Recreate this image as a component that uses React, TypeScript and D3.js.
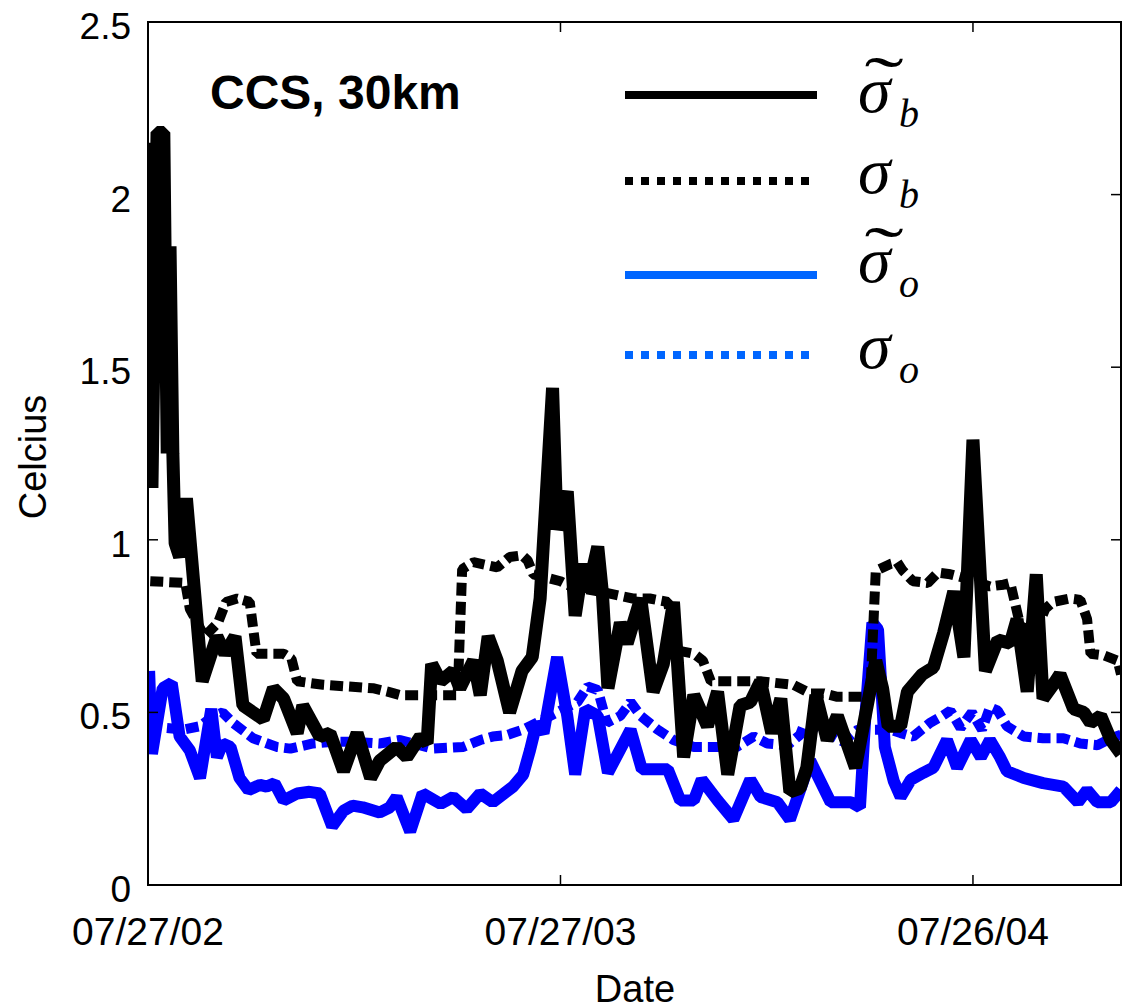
import React from "react";
import * as d3 from "d3";

// Days since 07/27/2002 paired with values in degrees Celsius
const sigmaBTilde: [number, number][] = [
  [0, 2.15], [3.5, 1.15], [8, 2.18], [14, 2.18], [17, 1.25], [19.5, 1.85], [22, 1.25], [24, 0.99],
  [28, 0.95], [34, 1.12], [48, 0.59], [61, 0.72], [68, 0.67], [77, 0.72], [84, 0.52], [102, 0.48],
  [111, 0.57], [120, 0.54], [132, 0.44], [137, 0.52], [152, 0.43], [161, 0.44], [173, 0.33],
  [185, 0.44], [197, 0.31], [205, 0.36], [220, 0.4], [229, 0.37], [241, 0.43], [247, 0.41],
  [251, 0.64], [259, 0.59], [270, 0.62], [276, 0.57], [288, 0.65], [294, 0.55], [301, 0.72],
  [309, 0.65], [320, 0.5], [331, 0.62], [340, 0.66], [347, 0.83], [358, 1.44], [362, 1.03],
  [371, 1.14], [378, 0.78], [385, 0.93], [389, 0.85], [398, 0.98], [402, 0.85], [407, 0.57],
  [418, 0.76], [424, 0.7], [436, 0.83], [447, 0.56], [456, 0.64], [465, 0.82], [474, 0.37],
  [483, 0.55], [495, 0.46], [504, 0.56], [513, 0.32], [524, 0.52], [533, 0.53], [542, 0.59],
  [552, 0.44], [560, 0.54], [568, 0.27], [577, 0.28], [583, 0.34], [591, 0.55], [601, 0.42],
  [610, 0.49], [626, 0.34], [644, 0.65], [650, 0.57], [655, 0.46], [666, 0.46], [672, 0.56],
  [685, 0.61], [695, 0.63], [704, 0.73], [713, 0.85], [722, 0.66], [730, 1.29], [741, 0.62],
  [752, 0.71], [763, 0.7], [769, 0.77], [778, 0.56], [786, 0.9], [792, 0.54], [803, 0.59],
  [807, 0.61], [819, 0.51], [828, 0.5], [834, 0.47], [843, 0.49], [852, 0.42], [861, 0.38],
];

const sigmaB: [number, number][] = [
  [2, 0.88], [33, 0.875], [37, 0.8], [50, 0.72], [62, 0.76], [69, 0.82], [79, 0.83], [90, 0.82],
  [96, 0.67], [120, 0.67], [127, 0.655], [132, 0.59], [155, 0.58], [199, 0.57], [212, 0.56],
  [223, 0.55], [274, 0.55], [278, 0.915], [288, 0.935], [309, 0.92], [320, 0.95], [331, 0.955],
  [336, 0.94], [341, 0.9], [353, 0.89], [365, 0.88], [374, 0.865], [400, 0.85], [429, 0.83],
  [444, 0.83], [460, 0.82], [468, 0.68], [483, 0.67], [491, 0.65], [498, 0.59], [513, 0.59],
  [542, 0.59], [571, 0.58], [586, 0.555], [598, 0.555], [610, 0.545], [628, 0.545], [639, 0.545],
  [644, 0.91], [657, 0.93], [663, 0.935], [668, 0.91], [677, 0.88], [690, 0.875], [699, 0.905],
  [710, 0.9], [722, 0.89], [745, 0.865], [757, 0.87], [763, 0.875], [772, 0.75], [785, 0.73],
  [794, 0.8], [801, 0.82], [816, 0.83], [825, 0.826], [831, 0.77], [834, 0.67], [846, 0.665],
  [858, 0.65], [861, 0.61],
];

const sigmaOTilde: [number, number][] = [
  [1, 0.62], [3.5, 0.38], [13, 0.57], [21, 0.585], [28, 0.43], [37, 0.39], [46, 0.31], [56, 0.51],
  [61, 0.37], [66, 0.41], [73, 0.4], [81, 0.31], [89, 0.275], [99, 0.29], [105, 0.285], [112, 0.295],
  [120, 0.245], [132, 0.265], [143, 0.27], [152, 0.265], [163, 0.17], [173, 0.215], [181, 0.23],
  [190, 0.225], [205, 0.21], [214, 0.225], [220, 0.255], [232, 0.155], [243, 0.265], [259, 0.235],
  [270, 0.255], [282, 0.22], [294, 0.265], [305, 0.24], [323, 0.285], [332, 0.32], [338, 0.39],
  [344, 0.47], [350, 0.44], [362, 0.66], [371, 0.49], [378, 0.32], [387, 0.51], [398, 0.49],
  [407, 0.325], [427, 0.45], [437, 0.335], [460, 0.335], [471, 0.245], [483, 0.245], [490, 0.305],
  [504, 0.245], [518, 0.19], [533, 0.305], [542, 0.255], [557, 0.24], [568, 0.19], [586, 0.36],
  [604, 0.24], [622, 0.24], [630, 0.225], [635, 0.5], [641, 0.76], [646, 0.74], [652, 0.4],
  [660, 0.3], [666, 0.255], [675, 0.305], [686, 0.325], [695, 0.34], [707, 0.42], [716, 0.34],
  [728, 0.42], [737, 0.37], [745, 0.42], [754, 0.37], [760, 0.33], [775, 0.31], [792, 0.295],
  [810, 0.285], [823, 0.24], [831, 0.275], [840, 0.24], [852, 0.24], [861, 0.275],
];

const sigmaO: [number, number][] = [
  [0, 0.46], [31, 0.45], [46, 0.46], [58, 0.49], [66, 0.5], [75, 0.47], [93, 0.425], [114, 0.4],
  [126, 0.395], [146, 0.41], [164, 0.415], [181, 0.415], [205, 0.41], [223, 0.42], [252, 0.395],
  [279, 0.4], [294, 0.42], [305, 0.43], [318, 0.435], [332, 0.45], [380, 0.53], [389, 0.575],
  [398, 0.565], [406, 0.47], [418, 0.49], [427, 0.53], [436, 0.49], [451, 0.45], [465, 0.42],
  [483, 0.4], [500, 0.4], [521, 0.4], [536, 0.43], [548, 0.41], [566, 0.405], [577, 0.435],
  [580, 0.46], [592, 0.46], [604, 0.435], [615, 0.415], [628, 0.45], [657, 0.45], [666, 0.44],
  [677, 0.43], [692, 0.47], [703, 0.49], [710, 0.505], [719, 0.455], [729, 0.5], [738, 0.45],
  [745, 0.515], [752, 0.505], [760, 0.46], [775, 0.43], [792, 0.425], [810, 0.425], [825, 0.41],
  [840, 0.405], [852, 0.425], [861, 0.435],
];

const yTicks = [0, 0.5, 1, 1.5, 2, 2.5];
const xTickDays = [0, 365, 730];
const domainDays = 861;

const START = Date.UTC(2002, 6, 27);
const dayToDate = (d: number) => new Date(START + d * 86400000);

const W = 1131;
const H = 1007;
const plot = { left: 148, right: 1121, top: 22, bottom: 885 };

export default function App() {
  const x = d3
    .scaleUtc()
    .domain([dayToDate(0), dayToDate(domainDays)])
    .range([plot.left, plot.right]);
  const y = d3.scaleLinear().domain([0, 2.5]).range([plot.bottom, plot.top]);
  const line = d3
    .line<[number, number]>()
    .x((d) => x(dayToDate(d[0])))
    .y((d) => y(d[1]));
  const fmt = d3.utcFormat("%m/%d/%y");
  const sans = "'Liberation Sans', Arial, Helvetica, sans-serif";
  const serif = "'Liberation Serif', 'Times New Roman', serif";

  const series = [
    { data: sigmaOTilde, color: "#0000ff", width: 12, dash: undefined },
    { data: sigmaO, color: "#0000ff", width: 10, dash: "13 6" },
    { data: sigmaBTilde, color: "#000000", width: 13, dash: undefined },
    { data: sigmaB, color: "#000000", width: 10, dash: "13 6" },
  ];

  const legend = [
    { y: 95, color: "#000000", dash: undefined, tilde: true, sub: "b", base: 112 },
    { y: 181, color: "#000000", dash: "8 8", tilde: false, sub: "b", base: 193 },
    { y: 275, color: "#0066ff", dash: undefined, tilde: true, sub: "o", base: 282 },
    { y: 355, color: "#0066ff", dash: "8 8", tilde: false, sub: "o", base: 368 },
  ];

  return (
    <svg
      width={W}
      height={H}
      style={{ position: "absolute", left: 0, top: 0, background: "#fff" }}
    >
      <defs>
        <clipPath id="plotClip">
          <rect
            x={plot.left}
            y={plot.top}
            width={plot.right - plot.left}
            height={plot.bottom - plot.top}
          />
        </clipPath>
      </defs>
      <rect width={W} height={H} fill="#fff" />

      <g clipPath="url(#plotClip)">
        {series.map((s, i) => (
          <path
            key={i}
            d={line(s.data) || ""}
            fill="none"
            stroke={s.color}
            strokeWidth={s.width}
            strokeDasharray={s.dash}
            strokeLinejoin="bevel"
            strokeLinecap="butt"
          />
        ))}
      </g>

      {/* frame */}
      <rect
        x={plot.left}
        y={plot.top}
        width={plot.right - plot.left}
        height={plot.bottom - plot.top}
        fill="none"
        stroke="#000"
        strokeWidth={2}
      />

      {/* y ticks, both sides */}
      {yTicks.map((t) => (
        <g key={"y" + t}>
          <line x1={plot.left} x2={plot.left + 10} y1={y(t)} y2={y(t)} stroke="#000" strokeWidth={1.5} />
          <line x1={plot.right} x2={plot.right - 10} y1={y(t)} y2={y(t)} stroke="#000" strokeWidth={1.5} />
          <text
            x={131}
            y={y(t) + 17}
            textAnchor="end"
            fontFamily={sans}
            fontSize={37}
            fill="#000"
          >
            {String(t)}
          </text>
        </g>
      ))}

      {/* x ticks, top and bottom */}
      {xTickDays.map((d) => {
        const px = x(dayToDate(d));
        return (
          <g key={"x" + d}>
            <line x1={px} x2={px} y1={plot.bottom} y2={plot.bottom - 10} stroke="#000" strokeWidth={1.5} />
            <line x1={px} x2={px} y1={plot.top} y2={plot.top + 10} stroke="#000" strokeWidth={1.5} />
            <text x={px} y={945} textAnchor="middle" fontFamily={sans} fontSize={39} fill="#000">
              {fmt(dayToDate(d))}
            </text>
          </g>
        );
      })}

      <text x={635} y={1002} textAnchor="middle" fontFamily={sans} fontSize={38} fill="#000">
        Date
      </text>
      <text
        transform="translate(46,457) rotate(-90)"
        textAnchor="middle"
        fontFamily={sans}
        fontSize={38}
        fill="#000"
      >
        Celcius
      </text>

      <text x={210} y={109} fontFamily={sans} fontWeight="bold" fontSize={48} fill="#000">
        CCS, 30km
      </text>

      {/* legend */}
      {legend.map((l, i) => (
        <g key={"lg" + i}>
          <line
            x1={625}
            x2={l.dash ? 813 : 817}
            y1={l.y}
            y2={l.y}
            stroke={l.color}
            strokeWidth={8}
            strokeDasharray={l.dash}
          />
          <text x={858} y={l.base} fontFamily={serif} fontStyle="italic" fontSize={66} fill="#000">
            σ
          </text>
          <text x={899} y={l.base + 15} fontFamily={serif} fontStyle="italic" fontSize={40} fill="#000">
            {l.sub}
          </text>
          {l.tilde && (
            <text
              transform={`translate(884,${l.base - 8}) scale(1.9,1.1)`}
              textAnchor="middle"
              fontFamily={serif}
              fontSize={62}
              fill="#000"
            >
              ˜
            </text>
          )}
        </g>
      ))}
    </svg>
  );
}
